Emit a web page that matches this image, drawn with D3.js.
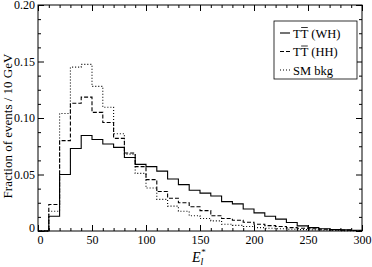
<!DOCTYPE html>
<html>
<head>
<meta charset="utf-8">
<script src="https://cdn.jsdelivr.net/npm/d3@7"></script>
<style>
  body { margin: 0; background: #fff; }
  svg { display: block; font-family: "Liberation Serif", "Times New Roman", serif; }
</style>
</head>
<body>
<div id="chart"></div>
<script>
// bin lower edges, 10 GeV wide, 0..300
var binEdges = d3.range(0, 300, 10);

// fraction of events per bin
var wh = [0, 0.013, 0.050, 0.073, 0.0845, 0.081, 0.077, 0.074, 0.065, 0.059,
          0.057, 0.053, 0.046, 0.041, 0.036, 0.0335, 0.031, 0.026, 0.024, 0.0195,
          0.016, 0.013, 0.0105, 0.0075, 0.0045, 0.003, 0.002, 0.0013, 0.001, 0.0006];
var hh = [0, 0.0235, 0.080, 0.113, 0.1185, 0.105, 0.096, 0.082, 0.069, 0.057,
          0.0455, 0.035, 0.029, 0.025, 0.0215, 0.018, 0.0135, 0.011, 0.0095, 0.0078,
          0.006, 0.0048, 0.004, 0.003, 0.0025, 0.002, 0.0015, 0.001, 0.0008, 0.0005];
var smbkg = [0, 0.0175, 0.104, 0.145, 0.1475, 0.128, 0.1095, 0.086, 0.068, 0.051,
             0.038, 0.028, 0.022, 0.0175, 0.0135, 0.011, 0.009, 0.006, 0.005, 0.004,
             0.003, 0.0025, 0.002, 0.0015, 0.0012, 0.001, 0.0007, 0.0005, 0.0003, 0.0002];

var xMajor = [0, 50, 100, 150, 200, 250, 300];
var yMajor = [0, 0.05, 0.10, 0.15, 0.20];

var series = [
  {name: "WH", values: wh, dash: null},
  {name: "HH", values: hh, dash: "4,2"},
  {name: "SM bkg", values: smbkg, dash: "1,2"}
];

var margin = {top: 5, right: 10, bottom: 36, left: 38},
    width = 372 - margin.left - margin.right,
    height = 267 - margin.top - margin.bottom;

var svg = d3.select("#chart")
    .append("svg")
    .attr("width", 372)
    .attr("height", 267)
    .append("g")
    .attr("transform", "translate(" + margin.left + "," + margin.top + ")");

var x = d3.scaleLinear().domain([0, 300]).range([0, width]);
var y = d3.scaleLinear().domain([0, 0.2]).range([height, 0]);

var xMinor = d3.range(0, 301, 10).filter(function(d) { return d % 50 != 0; });
var yMinor = d3.range(0, 0.2001, 0.0125).filter(function(d) { return Math.abs(d / 0.05 - Math.round(d / 0.05)) > 1e-6; });

function yfmt(d) { return d == 0 ? "0" : d3.format(".2f")(d); }

function styleAxis(g) {
  g.select(".domain").remove();
  g.selectAll("line").attr("stroke", "#000").attr("stroke-width", 1);
  g.selectAll("text").style("font-size", "12px").attr("fill", "#000")
    .style("font-family", "Liberation Serif, serif");
}

// bottom
var xAxisG = svg.append("g").attr("transform", "translate(0," + height + ")")
  .call(d3.axisBottom(x).tickValues(xMajor).tickSize(-6).tickPadding(4).tickFormat(d3.format("d")))
  .call(styleAxis);
svg.append("g").attr("transform", "translate(0," + height + ")")
  .call(d3.axisBottom(x).tickValues(xMinor).tickSize(-3).tickFormat(""))
  .call(styleAxis);
// top
svg.append("g")
  .call(d3.axisTop(x).tickValues(xMajor).tickSize(-6).tickFormat(""))
  .call(styleAxis);
svg.append("g")
  .call(d3.axisTop(x).tickValues(xMinor).tickSize(-3).tickFormat(""))
  .call(styleAxis);
// left
var yAxisG = svg.append("g")
  .call(d3.axisLeft(y).tickValues(yMajor).tickSize(-6).tickPadding(3).tickFormat(yfmt))
  .call(styleAxis);
svg.append("g")
  .call(d3.axisLeft(y).tickValues(yMinor).tickSize(-3).tickFormat(""))
  .call(styleAxis);
// right
svg.append("g").attr("transform", "translate(" + width + ",0)")
  .call(d3.axisRight(y).tickValues(yMajor).tickSize(-6).tickFormat(""))
  .call(styleAxis);
svg.append("g").attr("transform", "translate(" + width + ",0)")
  .call(d3.axisRight(y).tickValues(yMinor).tickSize(-3).tickFormat(""))
  .call(styleAxis);

// nudge the two zero labels apart like the original
xAxisG.selectAll(".tick text").filter(function(d) { return d == 0; }).attr("dx", 2);
yAxisG.selectAll(".tick text").filter(function(d) { return d == 0; }).attr("dy", "0.05em");

// histograms
var line = d3.line()
  .x(function(d) { return x(d[0]); })
  .y(function(d) { return y(d[1]); })
  .curve(d3.curveStepAfter);

series.forEach(function(s) {
  var pts = binEdges.map(function(e, i) { return [e, s.values[i]]; });
  pts.push([300, s.values[s.values.length - 1]]);
  svg.append("path")
    .attr("d", line(pts))
    .attr("fill", "none")
    .attr("stroke", "#000")
    .attr("stroke-width", 1.1)
    .attr("stroke-dasharray", s.dash);
});

// frame
svg.append("rect")
  .attr("width", width).attr("height", height)
  .attr("fill", "none").attr("stroke", "#000").attr("stroke-width", 1);

// legend
var lg = svg.append("g").attr("transform", "translate(" + (274 - margin.left) + "," + (21 - margin.top) + ")");
lg.append("rect").attr("width", 83).attr("height", 58)
  .attr("fill", "#fff").attr("stroke", "#000").attr("stroke-width", 0.8);
series.forEach(function(s, i) {
  var ly = 12 + i * 18.5;
  lg.append("line").attr("x1", 6).attr("x2", 16).attr("y1", ly).attr("y2", ly)
    .attr("stroke", "#000").attr("stroke-width", 1.1).attr("stroke-dasharray", s.dash);
  var t = lg.append("text").attr("x", 19).attr("y", ly + 4.5).style("font-size", "12.5px");
  if (s.name == "SM bkg") {
    t.text("SM bkg");
  } else {
    var t1 = t.append("tspan").text("T");
    var t2 = t.append("tspan").text("T");
    t.append("tspan").attr("dx", 3).text("(" + s.name + ")");
    var w1 = t1.node().getComputedTextLength(),
        w2 = t2.node().getComputedTextLength();
    // bar over the second T
    lg.append("line")
      .attr("x1", 19 + w1 + 0.5).attr("x2", 19 + w1 + w2 - 0.5)
      .attr("y1", ly - 5.5).attr("y2", ly - 5.5)
      .attr("stroke", "#000").attr("stroke-width", 0.8);
  }
});

// axis labels
svg.append("text")
  .attr("transform", "rotate(-90)")
  .attr("x", -(126 - margin.top))
  .attr("y", 12 - margin.left)
  .attr("text-anchor", "middle")
  .style("font-size", "13px")
  .text("Fraction of events / 10 GeV");

var xl = svg.append("text")
  .attr("x", 192 - margin.left)
  .attr("y", 262 - margin.top)
  .style("font-size", "14px");
xl.append("tspan").style("font-style", "italic").text("E");
xl.append("tspan").style("font-style", "italic").style("font-size", "10px").attr("dy", 3).text("l");
xl.append("tspan").style("font-size", "9px").attr("dx", -2).attr("dy", -10).text("*");
</script>
</body>
</html>
